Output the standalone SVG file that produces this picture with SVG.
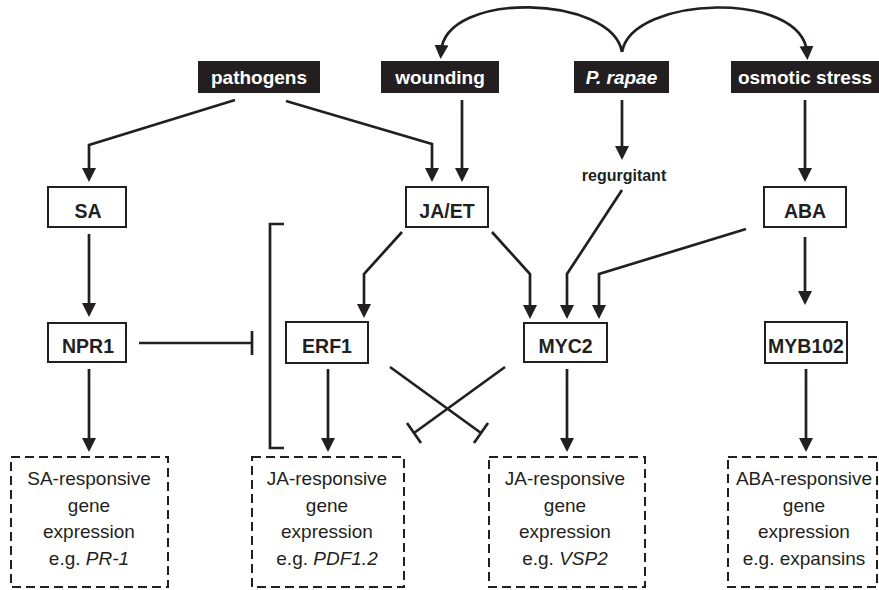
<svg xmlns="http://www.w3.org/2000/svg" width="879" height="590" viewBox="0 0 879 590">
<style>
.bg{fill:#ffffff}
.lbl rect{fill:#231f20}
.lbl text{fill:#ffffff;font-family:"Liberation Sans",Arial,sans-serif;font-weight:bold;font-size:19px;text-anchor:middle}
.node rect{fill:#ffffff;stroke:#231f20;stroke-width:2}
.node text{fill:#231f20;font-family:"Liberation Sans",Arial,sans-serif;font-weight:bold;font-size:19.5px;text-anchor:middle}
.out rect{fill:#ffffff;stroke:#231f20;stroke-width:2;stroke-dasharray:9 5}
.out text{fill:#231f20;font-family:"Liberation Sans",Arial,sans-serif;font-size:19px;text-anchor:middle}
.conn path{fill:none;stroke:#231f20;stroke-width:2.7}
.reg{fill:#231f20;font-family:"Liberation Sans",Arial,sans-serif;font-weight:bold;font-size:16px;text-anchor:middle}
</style>
<defs>
<marker id="arr" markerUnits="userSpaceOnUse" markerWidth="15" markerHeight="15" refX="7" refY="7" orient="auto">
<path d="M0,0 L14,7 L0,14 z" fill="#231f20"/>
</marker>
</defs>
<rect class="bg" x="0" y="0" width="879" height="590"/>

<g class="conn" id="connectors">
<path d="M622,52 C612,-5 445,-10 441,52" marker-end="url(#arr)"/>
<path d="M622,52 C632,-5 803,-10 807,53" marker-end="url(#arr)"/>
<path d="M235,100 L89,145 L89,175" marker-end="url(#arr)"/>
<path d="M286,101 L432,144 L432,175" marker-end="url(#arr)"/>
<path d="M462,100 L462,175" marker-end="url(#arr)"/>
<path d="M622,100 L622,153" marker-end="url(#arr)"/>
<path d="M805,100 L805,175" marker-end="url(#arr)"/>
<path d="M89,234 L89,310" marker-end="url(#arr)"/>
<path d="M89,369 L89,445" marker-end="url(#arr)"/>
<path d="M402,232 L364,274 L364,311" marker-end="url(#arr)"/>
<path d="M492,232 L530,274 L530,312" marker-end="url(#arr)"/>
<path d="M622,190 L567,274 L567,312" marker-end="url(#arr)"/>
<path d="M746,229 L599,274 L599,312" marker-end="url(#arr)"/>
<path d="M805,237 L805,298" marker-end="url(#arr)"/>
<path d="M328,369 L328,445" marker-end="url(#arr)"/>
<path d="M567,369 L567,445" marker-end="url(#arr)"/>
<path d="M806,369 L806,445" marker-end="url(#arr)"/>
<path d="M139,343 L252,343 M252,331 L252,355"/>
<path d="M284,224 L270,224 L270,448 L284,448"/>
<path d="M390,367 L481,433 M474,443 L488,423"/>
<path d="M505,367 L414,433 M421,443 L407,423"/>
</g>

<g class="lbl" id="pathogens"><rect x="198" y="61" width="122" height="32"/><text x="259" y="83.5">pathogens</text></g>
<g class="lbl" id="wounding"><rect x="381" y="61" width="118" height="32"/><text x="440" y="83.5">wounding</text></g>
<g class="lbl" id="prapae"><rect x="574" y="61" width="95" height="32"/><text x="621.5" y="83.5" font-style="italic">P. rapae</text></g>
<g class="lbl" id="osmotic"><rect x="731" y="61" width="148" height="32"/><text x="805" y="83.5">osmotic stress</text></g>

<g id="regurgitant"><text class="reg" x="624" y="181">regurgitant</text></g>

<g class="node" id="SA"><rect x="48" y="187" width="78" height="40"/><text x="88" y="217.5">SA</text></g>
<g class="node" id="JAET"><rect x="406" y="187" width="82" height="40"/><text x="447" y="217.5">JA/ET</text></g>
<g class="node" id="ABA"><rect x="764" y="187" width="82" height="40"/><text x="805" y="217.5">ABA</text></g>
<g class="node" id="NPR1"><rect x="48" y="323" width="78" height="39"/><text x="88" y="353">NPR1</text></g>
<g class="node" id="ERF1"><rect x="286" y="322" width="82" height="41"/><text x="327" y="353">ERF1</text></g>
<g class="node" id="MYC2"><rect x="524" y="323" width="83" height="39"/><text x="565.5" y="353">MYC2</text></g>
<g class="node" id="MYB102"><rect x="765" y="322" width="82" height="41"/><text x="806" y="353">MYB102</text></g>

<g class="out" id="SAresp"><rect x="11" y="457" width="157" height="130"/>
<text x="89" y="485">SA-responsive</text><text x="89" y="511.5">gene</text><text x="89" y="538">expression</text><text x="89" y="565">e.g. <tspan font-style="italic">PR-1</tspan></text></g>
<g class="out" id="JAresp1"><rect x="252" y="457" width="152" height="130"/>
<text x="327" y="485">JA-responsive</text><text x="327" y="511.5">gene</text><text x="327" y="538">expression</text><text x="327" y="565">e.g. <tspan font-style="italic">PDF1.2</tspan></text></g>
<g class="out" id="JAresp2"><rect x="489" y="457" width="156" height="130"/>
<text x="565" y="485">JA-responsive</text><text x="565" y="511.5">gene</text><text x="565" y="538">expression</text><text x="565" y="565">e.g. <tspan font-style="italic">VSP2</tspan></text></g>
<g class="out" id="ABAresp"><rect x="728" y="457" width="149" height="130"/>
<text x="804" y="485">ABA-responsive</text><text x="804" y="511.5">gene</text><text x="804" y="538">expression</text><text x="804" y="565">e.g. expansins</text></g>
</svg>
